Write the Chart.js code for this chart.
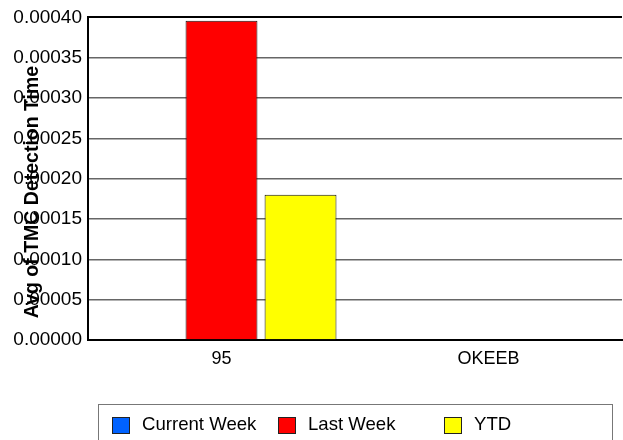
<!DOCTYPE html>
<html>
<head>
<meta charset="utf-8">
<script src="https://cdn.jsdelivr.net/npm/chart.js@4"></script>
<style>
  body { margin: 0; background: #fff; }
  #wrap { width: 623px; height: 440px; }
</style>
</head>
<body>
<div id="wrap"><canvas id="tmcChart" width="623" height="440"></canvas></div>
<script>
// values
var categories = ['95', 'OKEEB'];
var currentWeek = [null, null];
var lastWeek = [0.000396, null];
var ytd = [0.00018, null];
var yTitle = 'Avg of TMC Detection Time';

// legend box + rotated axis title, drawn on top
var extras = {
  id: 'extras',
  afterDraw: function(chart) {
    var ctx = chart.ctx;
    ctx.save();
    // axis title sits over the tick labels like in the original
    ctx.translate(33, 192);
    ctx.rotate(-Math.PI / 2);
    ctx.font = 'bold 19.5px "Liberation Sans", Arial, sans-serif';
    ctx.fillStyle = '#000';
    ctx.textAlign = 'center';
    ctx.textBaseline = 'middle';
    ctx.fillText(yTitle, 0, 0);
    ctx.restore();

    ctx.save();
    ctx.strokeStyle = '#777';
    ctx.lineWidth = 1;
    ctx.strokeRect(98.5, 404.5, 514, 50);
    ctx.font = '18.6px "Liberation Sans", Arial, sans-serif';
    ctx.textBaseline = 'middle';
    chart.data.datasets.forEach(function(ds, i) {
      var x = 112 + i * 166;
      ctx.fillStyle = ds.backgroundColor;
      ctx.fillRect(x, 417, 18, 17);
      ctx.strokeStyle = '#222';
      ctx.strokeRect(x + 0.5, 417.5, 17, 16);
      ctx.fillStyle = '#000';
      ctx.fillText(ds.label, x + 30, 425);
    });
    ctx.restore();
  }
};

var ctx = document.getElementById('tmcChart').getContext('2d');
var tmcChart = new Chart(ctx, {
  type: 'bar',
  data: {
    labels: categories,
    datasets: [
      { label: 'Current Week', data: currentWeek, backgroundColor: '#0062ff' },
      { label: 'Last Week', data: lastWeek, backgroundColor: '#ff0000' },
      { label: 'YTD', data: ytd, backgroundColor: '#ffff00' }
    ]
  },
  options: {
    responsive: false,
    animation: false,
    layout: { padding: { top: 17, right: 1, bottom: 70, left: 0 } },
    datasets: {
      bar: {
        borderColor: '#111',
        borderWidth: 1,
        categoryPercentage: 0.888,
        barPercentage: 0.91
      }
    },
    plugins: {
      legend: { display: false },
      tooltip: { enabled: false }
    },
    scales: {
      x: {
        grid: { display: false, drawTicks: false },
        border: { color: '#000', width: 2 },
        afterFit: function(s) { s.height = 30; },
        ticks: {
          color: '#000',
          padding: 8,
          font: { family: '"Liberation Sans", Arial, sans-serif', size: 18 }
        }
      },
      y: {
        min: 0,
        max: 0.0004,
        afterFit: function(s) { s.width = 88; },
        border: { color: '#000', width: 2 },
        grid: {
          drawTicks: false,
          color: function(c) { return c.tick.value >= 0.0004 ? '#000' : '#666'; },
          lineWidth: function(c) { return c.tick.value >= 0.0004 ? 2 : 1.5; }
        },
        ticks: {
          stepSize: 0.00005,
          color: '#000',
          padding: 6,
          font: { family: '"Liberation Sans", Arial, sans-serif', size: 19 },
          callback: function(v) { return v.toFixed(5); }
        }
      }
    }
  },
  plugins: [extras]
});
</script>
</body>
</html>
